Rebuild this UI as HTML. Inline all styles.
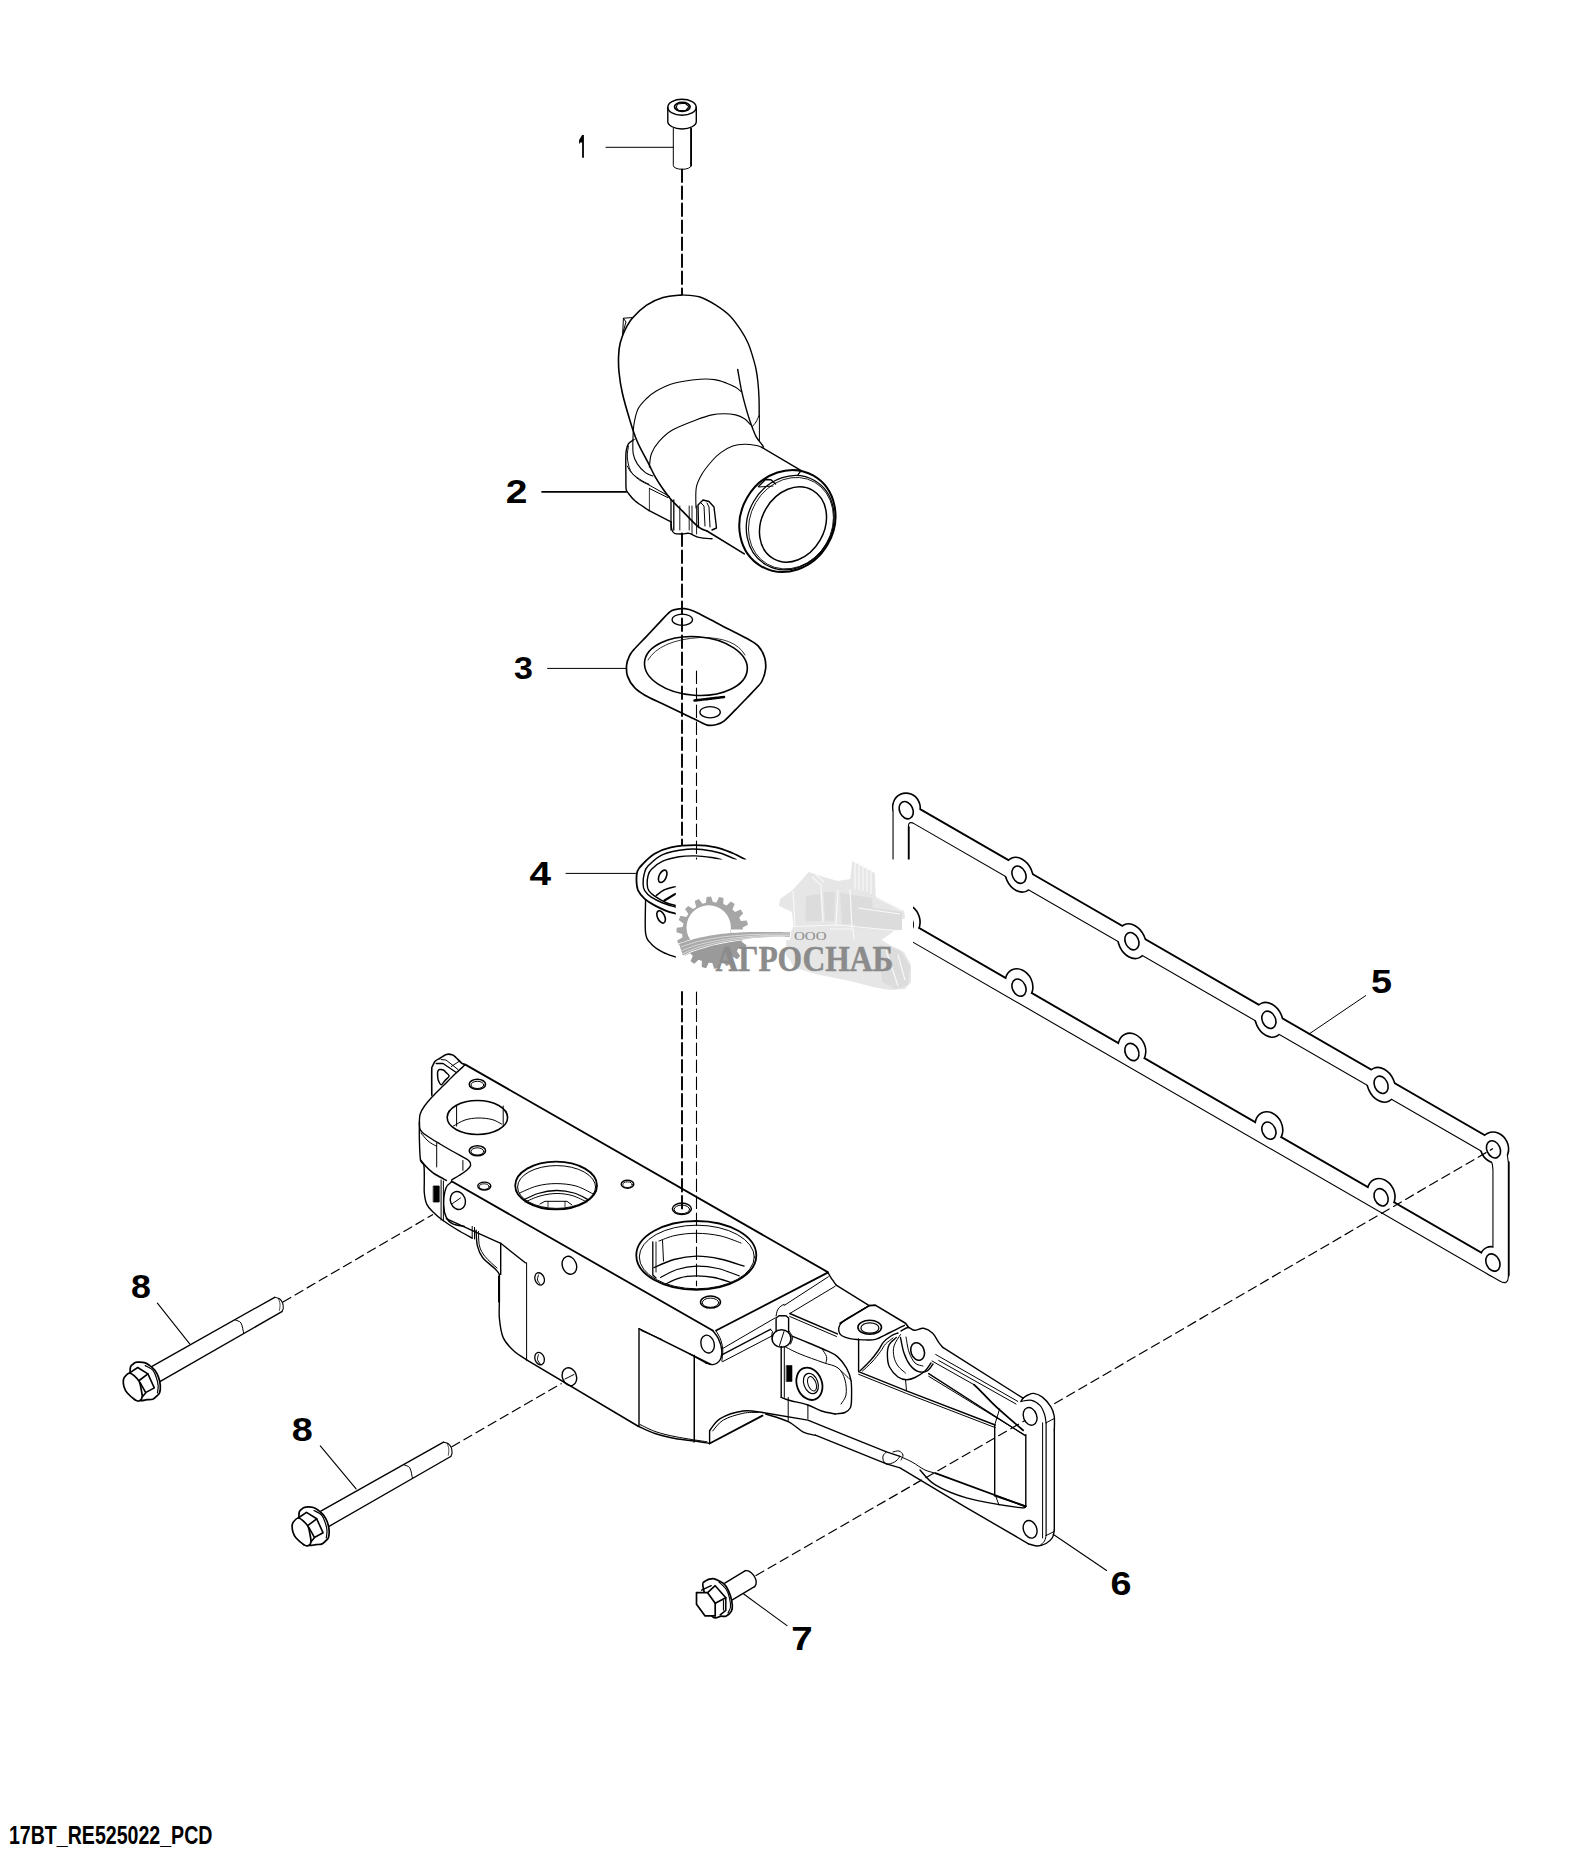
<!DOCTYPE html>
<html><head><meta charset="utf-8"><style>
html,body{margin:0;padding:0;background:#fff;}
body{width:1588px;height:1852px;overflow:hidden;position:relative;}
svg{position:absolute;left:0;top:0;}
.lb{font-family:"Liberation Sans",sans-serif;font-weight:bold;fill:#000;}
</style></head><body>
<svg width="1588" height="1852" viewBox="0 0 1588 1852">
<g fill="none" stroke="#000" stroke-linecap="round" stroke-linejoin="round">
<ellipse cx="682" cy="107.2" rx="14.2" ry="8" stroke-width="1.4" />
<path d="M667.8,107.5 V121.5 A14.2,7.4 0 0 0 696.3,121.5 V107.5" stroke-width="1.4" />
<ellipse cx="682.3" cy="106.8" rx="7.8" ry="4.5" stroke-width="1.7" />
<path d="M677.5,104 L685,103.3 L689,106.5 L686,110.2 L678.5,110.6 L676.2,107.4Z" stroke-width="1.1" />
<path d="M673.3,128.5 V165.5 A8.9,3.8 0 0 0 691.1,165.5 V128.5" stroke-width="1.0" />
<path d="M691.1,128.5 V165.5" stroke-width="1.8" />
<path d="M606,147.3 H673.3" stroke-width="1.0" />
<path d="M682,169.5 L682,294.5" stroke-width="1.9" stroke-dasharray="12.5 4.5"/>
<path d="M681.9,294.9 C678.8,295.3 668.9,295.8 663,297.5 C657.1,299.2 651.6,301.8 646.6,305.2 C641.6,308.6 636.3,313.7 632.7,317.8 C629.1,321.9 627.1,325.8 625,330 C622.9,334.2 621.3,338.7 620.2,343 C619.1,347.3 618.8,351.2 618.6,356 C618.4,360.8 618.4,365.8 619,372 C619.6,378.2 620.6,385.3 622.4,393.3 C624.2,401.3 627.4,412.1 629.8,420 C632.2,427.9 633.9,433.7 637,441 C640.1,448.3 645.6,457.8 648.7,463.9 C651.8,470 653.1,473.2 655.5,477.4 C657.9,481.6 660.4,485.3 663,489 C665.6,492.7 667.8,495.9 671,499.6 C674.2,503.3 678,506.6 682.5,511.1 C687,515.6 693.9,523.3 698,526.6 C702.1,529.9 705.5,530.3 707,531" stroke-width="1.6" />
<path d="M707,531 L744.3,553.9" stroke-width="1.6" />
<path d="M681.9,294.9 C684.9,295.2 694.3,295.3 700,297 C705.7,298.7 710.9,302 715.9,305.2 C720.9,308.4 725.8,311.8 730,316 C734.2,320.2 738,325.9 741,330.4 C744,334.9 746.1,338.8 748,343 C749.9,347.2 751.1,351.3 752.4,355.6 C753.7,359.9 755.1,364.6 756,369 C756.9,373.4 757.4,377.2 757.9,382 C758.4,386.8 758.8,392.3 759,398 C759.2,403.7 759.2,413 759.2,416" stroke-width="1.4" />
<path d="M759.4,416 V440.5" stroke-width="1.0" />
<path d="M758.8,416 C758.3,417 757.1,420.2 756,422 C754.9,423.8 752.9,425.8 752.3,426.5" stroke-width="1.0" />
<path d="M737.7,369.5 C738.4,373.1 740,383.6 741.6,390.9 C743.2,398.2 745.8,407.6 747.5,413.4 C749.2,419.2 750.2,421.9 751.7,425.9 C753.2,429.9 754.7,434.1 756.4,437.2 C758.1,440.3 760.6,442.7 761.8,444.3 C763,445.9 763.2,446.6 763.5,447" stroke-width="1.4" />
<path d="M622.6,336 L623.4,318.2 L632,317.6" stroke-width="1.0" />
<path d="M623.4,318.2 L626,322 L622.8,333" stroke-width="1.0" />
<path d="M652.8,476 C651.6,475.4 648,474.6 645.4,472.6 C642.8,470.6 639.3,467 637.3,463.9 C635.3,460.8 633.9,458.2 633.2,453.7 C632.5,449.2 632.9,441.9 633,437 C633.1,432.1 633.2,428.7 634,424 C634.8,419.3 636,413.2 638,409 C640,404.8 642.9,402 646,399 C649.1,396 651.9,393.5 656.7,390.8 C661.5,388.1 667.8,384.9 675,383 C682.2,381.1 693.4,379.9 700,379.3 C706.6,378.7 710.3,379 714.8,379.6 C719.2,380.2 723.2,381.9 726.7,383.2 C730.2,384.5 733.2,385.9 735.6,387.3 C738,388.7 740.1,390.8 741,391.5" stroke-width="1.1" />
<path d="M649.4,467.2 C649.7,464.9 649.8,458 651.4,453.7 C653,449.4 655.4,445.5 658.9,441.6 C662.4,437.7 666.2,433.7 672.4,430.1 C678.6,426.5 689.4,422.5 696,420 C702.6,417.5 707.3,415.9 711.9,414.9 C716.5,413.8 719.8,413.7 723.8,413.7 C727.8,413.7 732.1,414 735.6,414.9 C739.1,415.8 742,417.2 744.5,418.8 C747,420.4 749.5,423.7 750.5,424.7" stroke-width="1.1" />
<path d="M696,508 C696,504.6 695.3,493.2 696.3,487.5 C697.3,481.8 699.4,478.4 702,474 C704.6,469.6 708.8,464.6 711.9,461 C715,457.4 717.3,455.1 720.8,452.6 C724.3,450.1 728.8,447.5 732.7,446.1 C736.7,444.7 740.5,444.4 744.5,444.3 C748.5,444.2 753.5,445 756.4,445.5 C759.3,446 760.9,447 761.8,447.3" stroke-width="1.1" />
<path d="M761.8,447.3 L800.8,470.3" stroke-width="1.4" />
<path d="M634,439.5 C633.1,440.2 629.8,441.8 628.5,443.6 C627.2,445.4 626.8,448 626.3,450.4 C625.8,452.8 625.9,453.9 625.8,458 C625.7,462.1 625.8,469.9 625.9,475 C626,480.1 625.7,485.7 626.1,488.8 C626.5,491.9 627,491.5 628.5,493.5 C630,495.5 631.8,498.2 635.2,501 C638.6,503.8 646.5,508.8 648.7,510.4" stroke-width="1.4" />
<path d="M648.7,510.4 L671,521.9" stroke-width="1.4" />
<path d="M628.5,446 C628.3,447.8 627,452.9 627.3,457 C627.6,461.1 628.6,466.9 630.5,470.6 C632.4,474.3 635.6,477 638.6,479.4 C641.6,481.8 647,483.9 648.7,484.8" stroke-width="1.0" />
<path d="M648.7,484.8 L669.5,496.5" stroke-width="1.0" />
<path d="M627.3,466 C628.1,467.2 629.4,470.9 631.9,473.3 C634.4,475.8 639.1,478.9 642,480.7 C644.9,482.5 647.8,483.7 649,484.3" stroke-width="1.0" />
<path d="M649.4,488.5 L667.6,497.5" stroke-width="1.0" />
<path d="M649.4,488.2 V510.4" stroke-width="0.8" />
<path d="M671,500 V530" stroke-width="1.3" />
<path d="M673.8,500 V530" stroke-width="1.3" />
<path d="M679.8,506 V530" stroke-width="0.9" />
<path d="M689.2,506 V530" stroke-width="0.9" />
<path d="M692,506 V534" stroke-width="0.9" />
<path d="M696.6,506 V534" stroke-width="0.9" />
<path d="M671,521.5 C671.1,522.8 671.2,527.5 671.8,529.5 C672.4,531.5 672.7,532.6 674.5,533.4 C676.3,534.1 680,534 682.5,534 C685,534 686.5,532.8 689.2,533.4 C691.9,534 694.9,536.5 698.7,537.4 C702.5,538.3 709.8,538.6 712,538.8" stroke-width="1.4" />
<path d="M698.5,527.5 L698,505 L703,500 L709,501.5 L714,507 L716.5,528 L712,530" stroke-width="1.4" />
<path d="M701,503 L704,506 L705,526" stroke-width="1.0" />
<path d="M707,503 L709,507 L710,527" stroke-width="1.0" />
<ellipse cx="787.4" cy="521" rx="46.6" ry="52.3" transform="rotate(30 787.4 521)" stroke-width="2"/>
<ellipse cx="790.2" cy="522.6" rx="42.2" ry="48.6" transform="rotate(30 790.2 522.6)" stroke-width="1.3"/>
<ellipse cx="791" cy="523.2" rx="40.8" ry="47.3" transform="rotate(30 791 523.2)" stroke-width="0.8"/>
<ellipse cx="793" cy="524.5" rx="31.3" ry="39.4" transform="rotate(30 793 524.5)" stroke-width="1.5"/>
<path d="M758.5,486.5 L765.5,479.5 L771,479.8 L775.5,484" stroke-width="1.4" />
<path d="M759,487 L773,486" stroke-width="1.0" />
<path d="M789.5,470.5 L800.5,470.8 L797,476 L801.5,470.8" stroke-width="1.0" />
<path d="M610,491.9" stroke-width="1" />
<path d="M669.5,612.1 C672.6,609.5 673.6,609.9 676.1,609.3 C678.6,608.7 681.6,608.4 684.6,608.7 C687.6,609 689.5,609.3 694,611.2 C698.5,613.1 705.8,617.2 711.7,620.3 C717.6,623.3 723.5,626.5 729.4,629.5 C735.3,632.5 742.2,635.8 747,638.6 C751.8,641.4 755.4,643 758.3,646.1 C761.2,649.2 763.4,653.7 764.6,657.5 C765.8,661.3 766,664.9 765.6,668.8 C765.2,672.7 763.4,678 762,681 C760.6,684 760,684 757.5,686.8 C755,689.6 750.5,694.2 746.9,698 C743.2,701.8 739.4,705.8 735.6,709.6 C731.8,713.4 727.4,718.3 724.3,720.8 C721.1,723.3 719.5,723.8 716.7,724.5 C713.9,725.2 710.4,725.7 707.3,725.1 C704.1,724.5 702.3,722.9 697.8,720.8 C693.3,718.7 686.1,715.1 680.2,712.3 C674.3,709.4 668.4,706.6 662.5,703.7 C656.6,700.9 649.5,697.9 644.9,695.2 C640.2,692.5 637.5,690.8 634.6,687.7 C631.7,684.6 628.9,680.2 627.6,676.4 C626.3,672.6 626.3,668.5 626.6,665 C626.9,661.5 628.4,658.1 629.6,655.6 C630.8,653.1 630.9,653 633.6,649.9 C636.3,646.8 641.6,641.5 645.6,637.3 C649.6,633.1 653.5,628.9 657.5,624.7 C661.5,620.5 666.4,614.7 669.5,612.1Z" stroke-width="1.7" />
<ellipse cx="695.9" cy="666" rx="51.5" ry="29.3" transform="rotate(4 695.9 666)" stroke-width="1.6"/>
<path d="M648,660 Q660,640 700,637.5 Q735,637 745,655" stroke-width="0.8"/>
<ellipse cx="682.3" cy="619.7" rx="10.2" ry="5.6" stroke-width="1.3" />
<ellipse cx="710.1" cy="712.2" rx="10.2" ry="5.6" stroke-width="1.3" />
<path d="M694.5,700.5 L724,697" stroke-width="2.6" stroke-dasharray="3 1"/>
<path d="M547.6,668.4 H626" stroke-width="1.0" />
<path d="M675.4,913.6 C674,913.2 670.3,912.5 666.8,911.1 C663.3,909.7 658.3,907.4 654.6,905.4 C650.9,903.4 647.4,901.3 644.7,898.9 C642,896.5 639.6,893.7 638.2,890.7 C636.8,887.7 636.6,884.1 636.5,880.8 C636.4,877.5 636.5,873.7 637.5,871 C638.5,868.3 639.4,867.4 642.3,864.5 C645.1,861.6 649.8,856.7 654.6,853.8 C659.4,850.9 664.1,848.7 670.9,847.3 C677.7,845.9 688,845.2 695.5,845.2 C703,845.2 709.9,846 716,847.3 C722.1,848.6 727.4,851 732.3,853 C737.2,855 743.2,858.5 745.4,859.6" stroke-width="1.8" />
<path d="M675.4,907 C673.3,906.3 666.7,904.6 662.7,903 C658.7,901.4 654.3,899.2 651.3,897.2 C648.3,895.2 646.1,892.9 644.7,890.7 C643.3,888.5 643.2,886.9 643.1,884.1 C643,881.3 643.4,877 644.2,874 C645,871 644.9,869.3 648,866.1 C651.1,862.9 656.2,857.4 662.7,854.6 C669.2,851.8 680.5,850.1 687.3,849.3 C694.1,848.5 698.2,849.1 703.7,849.7 C709.2,850.3 714.5,851.4 720,853 C725.5,854.6 733.7,858.5 736.4,859.6" stroke-width="1.4" />
<path d="M675.4,905.4 C674,905 670,904.4 666.8,903 C663.6,901.6 659.2,899.2 656.2,897.2 C653.2,895.2 650.3,892.9 648.8,890.7 C647.3,888.5 647.3,886.6 647.2,884.1 C647.1,881.6 647.3,878.5 648,876 C648.7,873.5 648.8,871.9 651.3,869.4 C653.8,866.9 658.1,863.3 662.7,861.2 C667.3,859.1 673.6,857.6 679.1,856.7 C684.6,855.8 690,855.8 695.5,855.9 C701,856 707.5,856.9 711.9,857.5 C716.3,858.1 720.1,859.2 721.7,859.6" stroke-width="1.4" />
<ellipse cx="662.7" cy="876.3" rx="3.6" ry="6.6" transform="rotate(25 662.7 876.3)" stroke-width="1.6"/>
<ellipse cx="661.1" cy="916.9" rx="3.6" ry="6.6" transform="rotate(-25 661.1 916.9)" stroke-width="1.6"/>
<path d="M656.2,895.6 C657.5,894.7 660.8,891.5 664,890 C667.2,888.5 673.5,887.2 675.4,886.6" stroke-width="1.4" />
<path d="M664.4,900.5 L675.4,893.9" stroke-width="2.2" />
<path d="M645.6,899.7 C645.6,905.3 644.7,925.8 645.6,933.2 C646.5,940.6 648.4,940.8 651.3,943.9 C654.1,947 658.7,949.9 662.7,952.1 C666.7,954.3 673.3,956.2 675.4,957" stroke-width="1.4" />
<path d="M566,873.4 H636.5" stroke-width="1.0" />
<path d="M682,533.5 L682,845" stroke-width="1.9" stroke-dasharray="12.5 4.5"/>
<path d="M696.5,671 L696.5,859.6" stroke-width="1.1" stroke-dasharray="12.5 4.5"/>
<path d="M682,992 L682,1208.8" stroke-width="1.9" stroke-dasharray="12.5 4.5"/>
<path d="M696.5,992 L696.5,1285.7" stroke-width="1.1" stroke-dasharray="12.5 4.5"/>
<path d="M893.6,807.9 Q893.6,794.9 904.9,801.4 L1496.5,1143.1 Q1507.8,1149.6 1507.8,1162.6 L1507.8,1276.1 Q1507.8,1285.1 1500,1280.6 L902.3,935.4 Q893.6,930.4 893.6,920.4Z" stroke-width="2.2"/>
<path d="M907.8,827.4 Q907.8,819.4 914.7,823.4 L1483.1,1151.6 Q1493.5,1157.6 1493.5,1169.6 L1493.5,1252.8 Q1493.5,1260.8 1486.6,1256.8 L914.7,926.6 Q907.8,922.6 907.8,914.6Z" stroke-width="2.2"/>
<path d="M906.6,802.4 L1494.8,1142.1" stroke-width="3.8"/>
<path d="M1507.8,1162.6 L1507.8,1275.1" stroke-width="3.8"/>
<path d="M915.8,927.2 L1485.5,1256.2" stroke-width="3.8"/>
<path d="M907.8,827.4 L907.8,914.6" stroke-width="3.8"/>
<ellipse cx="1019" cy="874.7" rx="12.5" ry="17.3" transform="rotate(-25 1019 874.7)" stroke-width="3.2"/>
<ellipse cx="1131.9" cy="941.2" rx="12.5" ry="17.3" transform="rotate(-25 1131.9 941.2)" stroke-width="3.2"/>
<ellipse cx="1268.9" cy="1019.8" rx="12.5" ry="17.3" transform="rotate(-25 1268.9 1019.8)" stroke-width="3.2"/>
<ellipse cx="1381.1" cy="1084.8" rx="12.5" ry="17.3" transform="rotate(-25 1381.1 1084.8)" stroke-width="3.2"/>
<ellipse cx="1019" cy="984.6" rx="12.5" ry="15.5" transform="rotate(-25 1019 984.6)" stroke-width="3.2"/>
<ellipse cx="1131.9" cy="1049" rx="12.5" ry="15.5" transform="rotate(-25 1131.9 1049)" stroke-width="3.2"/>
<ellipse cx="1268.9" cy="1127.6" rx="12.5" ry="15.5" transform="rotate(-25 1268.9 1127.6)" stroke-width="3.2"/>
<ellipse cx="1381.1" cy="1194.3" rx="12.5" ry="15.5" transform="rotate(-25 1381.1 1194.3)" stroke-width="3.2"/>
<ellipse cx="906.5" cy="807.3" rx="12.8" ry="13.5" transform="rotate(-25 906.5 807.3)" stroke-width="3.2"/>
<ellipse cx="1494.4" cy="1147.5" rx="13" ry="15" transform="rotate(-25 1494.4 1147.5)" stroke-width="3.2"/>
<ellipse cx="906.2" cy="919.7" rx="12.5" ry="15.5" transform="rotate(-25 906.2 919.7)" stroke-width="3.2"/>
<ellipse cx="1492.9" cy="1261.5" rx="11.5" ry="14.5" transform="rotate(-25 1492.9 1261.5)" stroke-width="3.2"/>
<path d="M893.6,807.9 Q893.6,794.9 904.9,801.4 L1496.5,1143.1 Q1507.8,1149.6 1507.8,1162.6 L1507.8,1276.1 Q1507.8,1285.1 1500,1280.6 L902.3,935.4 Q893.6,930.4 893.6,920.4Z M907.8,827.4 Q907.8,819.4 914.7,823.4 L1483.1,1151.6 Q1493.5,1157.6 1493.5,1169.6 L1493.5,1252.8 Q1493.5,1260.8 1486.6,1256.8 L914.7,926.6 Q907.8,922.6 907.8,914.6Z" fill="#fff" fill-rule="evenodd" stroke="none"/>
<ellipse cx="1019" cy="874.7" rx="12.5" ry="17.3" transform="rotate(-25 1019 874.7)" fill="#fff" stroke="none"/>
<ellipse cx="1131.9" cy="941.2" rx="12.5" ry="17.3" transform="rotate(-25 1131.9 941.2)" fill="#fff" stroke="none"/>
<ellipse cx="1268.9" cy="1019.8" rx="12.5" ry="17.3" transform="rotate(-25 1268.9 1019.8)" fill="#fff" stroke="none"/>
<ellipse cx="1381.1" cy="1084.8" rx="12.5" ry="17.3" transform="rotate(-25 1381.1 1084.8)" fill="#fff" stroke="none"/>
<ellipse cx="1019" cy="984.6" rx="12.5" ry="15.5" transform="rotate(-25 1019 984.6)" fill="#fff" stroke="none"/>
<ellipse cx="1131.9" cy="1049" rx="12.5" ry="15.5" transform="rotate(-25 1131.9 1049)" fill="#fff" stroke="none"/>
<ellipse cx="1268.9" cy="1127.6" rx="12.5" ry="15.5" transform="rotate(-25 1268.9 1127.6)" fill="#fff" stroke="none"/>
<ellipse cx="1381.1" cy="1194.3" rx="12.5" ry="15.5" transform="rotate(-25 1381.1 1194.3)" fill="#fff" stroke="none"/>
<ellipse cx="906.5" cy="807.3" rx="12.8" ry="13.5" transform="rotate(-25 906.5 807.3)" fill="#fff" stroke="none"/>
<ellipse cx="1494.4" cy="1147.5" rx="13" ry="15" transform="rotate(-25 1494.4 1147.5)" fill="#fff" stroke="none"/>
<ellipse cx="906.2" cy="919.7" rx="12.5" ry="15.5" transform="rotate(-25 906.2 919.7)" fill="#fff" stroke="none"/>
<ellipse cx="1492.9" cy="1261.5" rx="11.5" ry="14.5" transform="rotate(-25 1492.9 1261.5)" fill="#fff" stroke="none"/>
<ellipse cx="906.2" cy="810.2" rx="6.6" ry="9" transform="rotate(-25 906.2 810.2)" stroke-width="1.6"/>
<ellipse cx="1019" cy="874.7" rx="6.6" ry="9" transform="rotate(-25 1019 874.7)" stroke-width="1.6"/>
<ellipse cx="1131.9" cy="941.2" rx="6.6" ry="9" transform="rotate(-25 1131.9 941.2)" stroke-width="1.6"/>
<ellipse cx="1268.9" cy="1019.8" rx="6.6" ry="9" transform="rotate(-25 1268.9 1019.8)" stroke-width="1.6"/>
<ellipse cx="1381.1" cy="1084.8" rx="6.6" ry="9" transform="rotate(-25 1381.1 1084.8)" stroke-width="1.6"/>
<ellipse cx="1493.5" cy="1149.4" rx="6.6" ry="9" transform="rotate(-25 1493.5 1149.4)" stroke-width="1.6"/>
<ellipse cx="906.2" cy="922.7" rx="6.6" ry="9" transform="rotate(-25 906.2 922.7)" stroke-width="1.6"/>
<ellipse cx="1019" cy="987.6" rx="6.6" ry="9" transform="rotate(-25 1019 987.6)" stroke-width="1.6"/>
<ellipse cx="1131.9" cy="1052" rx="6.6" ry="9" transform="rotate(-25 1131.9 1052)" stroke-width="1.6"/>
<ellipse cx="1268.9" cy="1130.6" rx="6.6" ry="9" transform="rotate(-25 1268.9 1130.6)" stroke-width="1.6"/>
<ellipse cx="1381.1" cy="1197.3" rx="6.6" ry="9" transform="rotate(-25 1381.1 1197.3)" stroke-width="1.6"/>
<ellipse cx="1492.9" cy="1262.5" rx="6.6" ry="9" transform="rotate(-25 1492.9 1262.5)" stroke-width="1.6"/>
<path d="M1365.7,995.6 L1309.2,1033.9" stroke-width="1.0" />
<path d="M465.4,1064.6 L827.7,1272.1" stroke-width="1.8" />
<path d="M827.7,1272.1 C828.2,1272.9 829.2,1275 830.6,1277.2 C832,1279.4 835.3,1283.8 836.2,1285.1" stroke-width="1.4" />
<path d="M836.2,1285.1 L869.2,1305.6" stroke-width="1.4" />
<path d="M465.4,1064.6 C463.7,1066.2 458.6,1070.6 455,1074 C451.4,1077.4 447.8,1081.2 444,1085 C440.2,1088.8 435.2,1093.5 432,1097 C428.8,1100.5 426.5,1103.2 424.5,1106 C422.5,1108.8 421.1,1111.3 420.2,1114 C419.3,1116.7 419.5,1119.5 419.4,1122 C419.3,1124.5 419.7,1127.8 419.8,1129" stroke-width="1.4" />
<path d="M431.8,1095.3 C431.8,1092.8 431.7,1084.5 431.7,1080 C431.7,1075.5 431.7,1070.7 431.8,1068.4 C431.9,1066.1 431.9,1067.4 432.5,1066.2 C433.1,1065 433.9,1062.5 435.1,1061.2 C436.4,1059.9 438.1,1059.3 440,1058.2 C441.9,1057.1 444.4,1055 446.4,1054.4 C448.4,1053.8 450.5,1054.3 452.1,1054.8 C453.7,1055.3 454.3,1056.1 455.9,1057.5 C457.5,1058.9 460.2,1062 461.6,1063.1 C463,1064.2 464,1064 464.5,1064.2" stroke-width="1.6" />
<path d="M436.2,1063.5 L442.7,1063.3 L455.9,1072.2" stroke-width="1.3" />
<path d="M441.2,1059.6 L446,1060 L458,1069.5" stroke-width="1.0" />
<path d="M451.4,1066.4 L459,1061.4" stroke-width="1.0" />
<path d="M437.8,1071.4 C438.1,1070.5 438.7,1069.8 439.6,1069.6 C440.5,1069.4 442.3,1069.5 443.4,1070 C444.5,1070.5 445.1,1071.5 446,1072.5 C446.9,1073.5 449.3,1074.7 449.1,1076 C448.9,1077.3 446.3,1079 445,1080.5 C443.7,1082 442.3,1084.8 441.2,1084.7 C440.1,1084.6 438.8,1081.6 438.2,1080 C437.6,1078.4 437.7,1076.4 437.6,1075 C437.5,1073.6 437.5,1072.3 437.8,1071.4Z" stroke-width="1.5" />
<path d="M419.8,1129 C420.3,1129.7 421.1,1131.4 423,1133 C424.9,1134.6 428.2,1136.7 431,1138.5 C433.8,1140.3 436.5,1141.9 440,1144 C443.5,1146.1 447.8,1148.6 452,1151 C456.2,1153.4 462.5,1156.7 465.4,1158.4 C468.3,1160.2 468.6,1160.3 469.5,1161.5 C470.4,1162.7 471,1164.1 470.6,1165.5 C470.2,1166.9 468.9,1168.3 467,1170 C465.1,1171.7 461.6,1173.8 459,1175.5 C456.4,1177.2 452.8,1179.2 451.6,1180" stroke-width="1.4" />
<path d="M421,1133 C422.2,1134.3 425.5,1138.8 428,1141 C430.5,1143.2 434.7,1145.2 436,1146" stroke-width="1.0" />
<path d="M436.7,1143 V1167" stroke-width="1.0" />
<path d="M419.4,1122 C419.4,1125 419.2,1133.7 419.4,1140 C419.6,1146.3 419.8,1155.8 420.5,1160 C421.2,1164.2 423.3,1162.2 423.9,1165.5 C424.5,1168.8 424.2,1175.5 424.3,1180 C424.4,1184.5 423.9,1188.7 424.3,1192.8 C424.7,1196.9 425.3,1201.2 426.8,1204.4 C428.3,1207.6 430.7,1209.6 433.3,1212.2 C435.9,1214.8 438.6,1217.2 442.4,1220 C446.2,1222.8 451,1226 456,1229 C461,1232 469.5,1236.6 472.2,1238.1" stroke-width="1.4" />
<path d="M420.5,1160 C421.4,1161.1 424,1164.4 426,1166.5 C428,1168.6 430.4,1170.8 432.7,1172.6 C435,1174.3 437.7,1175.7 440,1177 C442.3,1178.3 445.2,1179.8 446.3,1180.4" stroke-width="1.6" />
<path d="M462.9,1160.5 V1170.3" stroke-width="1.0" />
<path d="M441.1,1180 V1220 M443.4,1181 V1221" stroke-width="1.0" />
<path d="M433.6,1186 h5.6 v16 h-5.6z" fill="#000" stroke-width="0.8"/>
<path d="M451.6,1181.2 L712.7,1330.5" stroke-width="1.8" />
<path d="M827.7,1272.6 L716.1,1330.5" stroke-width="1.8" />
<path d="M828.3,1276.8 L784.1,1305.5" stroke-width="1.0" />
<path d="M835.1,1286.3 L789.8,1313.5" stroke-width="1.0" />
<ellipse cx="477.4" cy="1084.3" rx="8.2" ry="5" stroke-width="1.5" />
<ellipse cx="477.4" cy="1084.9" rx="6.4" ry="3.6" stroke-width="1.0" />
<ellipse cx="477.4" cy="1150.8" rx="8.2" ry="5" stroke-width="1.5" />
<ellipse cx="477.4" cy="1151.4" rx="6.4" ry="3.6" stroke-width="1.0" />
<ellipse cx="681.9" cy="1208.8" rx="9.5" ry="5.7" stroke-width="1.5" />
<ellipse cx="681.9" cy="1209.4" rx="7.7" ry="4.3" stroke-width="1.0" />
<ellipse cx="710.5" cy="1302.1" rx="10" ry="6" stroke-width="1.5" />
<ellipse cx="710.5" cy="1302.7" rx="8.2" ry="4.6" stroke-width="1.0" />
<ellipse cx="484.3" cy="1186.1" rx="6.5" ry="4" stroke-width="1.4" />
<ellipse cx="484.3" cy="1186.6" rx="4.9" ry="2.8" stroke-width="0.9" />
<ellipse cx="627.5" cy="1184.2" rx="6.3" ry="4" stroke-width="1.4" />
<ellipse cx="627.5" cy="1184.7" rx="4.7" ry="2.8" stroke-width="0.9" />
<ellipse cx="477.4" cy="1117.5" rx="30.2" ry="17" stroke-width="1.6" />
<path d="M456.6,1106 V1126 M503.2,1106 V1126" stroke-width="1.0" />
<path d="M453.5,1126 C455.4,1125 460.9,1121.3 465,1120 C469.1,1118.7 473.5,1118.1 478,1118 C482.5,1117.9 488.1,1118.5 492,1119.5 C495.9,1120.5 499.9,1123.2 501.5,1124" stroke-width="1.0" />
<ellipse cx="556.1" cy="1185.5" rx="40.9" ry="23.9" stroke-width="1.8" />
<ellipse cx="556.6" cy="1187" rx="39" ry="21.4" stroke-width="1.0" />
<path d="M519.6,1193 C522.5,1191.8 530.9,1187.6 537,1186 C543.1,1184.4 549.6,1183.6 556.1,1183.6 C562.6,1183.6 569.9,1184.3 576,1186 C582.1,1187.7 589.8,1192.4 592.6,1193.7" stroke-width="1.0" />
<path d="M523.4,1200 C525.8,1198.9 532.5,1195.1 538,1193.5 C543.5,1191.9 550.1,1190.6 556.1,1190.5 C562.1,1190.4 568.5,1191.4 574,1193 C579.5,1194.6 586.3,1198.8 588.8,1200" stroke-width="1.3" />
<path d="M525,1202 C527.5,1201 534.8,1197.4 540,1196 C545.2,1194.6 550.8,1193.6 556.1,1193.5 C561.4,1193.4 566.9,1194.1 572,1195.5 C577.1,1196.9 584.5,1200.9 587,1202" stroke-width="1.0" />
<path d="M540,1204 L545,1201.3 L567,1201.3 L572,1205" stroke-width="1.0" />
<path d="M548,1201.5 V1207 M565,1201.5 V1207" stroke-width="0.8" />
<ellipse cx="696.3" cy="1255.4" rx="60" ry="34.4" stroke-width="1.8" />
<ellipse cx="696.8" cy="1257" rx="57.5" ry="31.8" stroke-width="1.0" />
<path d="M659,1241 C661.7,1240.1 668.7,1236.8 675,1235.5 C681.3,1234.2 689.1,1233.2 696.6,1233.3 C704.1,1233.3 712.6,1234.2 720,1235.8 C727.4,1237.4 737.5,1241.8 741,1243" stroke-width="1.0" />
<path d="M654,1267.7 C657.3,1266.3 666.9,1261.4 674,1259.5 C681.1,1257.6 688.9,1256.3 696.6,1256.2 C704.3,1256.1 712.1,1257.3 720,1259 C727.9,1260.7 740.1,1264.9 744.1,1266.1" stroke-width="1.3" />
<path d="M660.6,1277.5 C663.3,1276.2 671,1271.4 677,1269.5 C683,1267.6 689.8,1266.3 696.6,1266.1 C703.4,1265.9 710.9,1266.9 718,1268.5 C725.1,1270.1 735.7,1274.7 739.2,1275.9" stroke-width="1.2" />
<path d="M665.5,1284.1 C667.9,1283 674.8,1279.2 680,1277.8 C685.2,1276.4 690.9,1276 696.6,1275.9 C702.3,1275.9 708.3,1276.4 714,1277.5 C719.7,1278.6 728.2,1281.6 731,1282.4" stroke-width="1.3" />
<path d="M652.8,1241.8 L652.8,1275 L656,1278" stroke-width="1.3" />
<path d="M656,1242 L656,1272" stroke-width="0.9" />
<path d="M662.5,1240 L663.5,1261" stroke-width="1.0" />
<ellipse cx="707.6" cy="1344.1" rx="6.6" ry="9.1" transform="rotate(-15 707.6 1344.1)" stroke-width="1.4"/>
<path d="M712.7,1330.5 C713.6,1331.8 716.8,1335.2 718.3,1338.4 C719.8,1341.6 721.4,1346.1 721.7,1349.7 C722,1353.3 721.5,1357.5 720,1360 C718.5,1362.5 715.3,1364.1 713,1364.6 C710.7,1365.1 707.2,1363.3 706,1363" stroke-width="1.4" />
<path d="M706,1363 L690,1354" stroke-width="1.4" />
<path d="M716.5,1331.5 C717.2,1332.9 719.8,1336.9 720.8,1340 C721.8,1343.1 722.6,1346.5 722.8,1350 C723,1353.5 722,1359.2 721.8,1361" stroke-width="1.0" />
<path d="M722.5,1348.6 L775,1318" stroke-width="1.0" />
<path d="M722.8,1354.3 L770.5,1329.3" stroke-width="1.4" />
<path d="M722.5,1361.7 L771.6,1336.1" stroke-width="1.0" />
<path d="M770.5,1329.3 L772.5,1331.5 L771.6,1336.1" stroke-width="1.0" />
<path d="M776.1,1331.6 L776.1,1318 L779,1315.8 L786,1315.7 L788.6,1318 L788.6,1331.6" stroke-width="1.4" />
<path d="M776.1,1316 C776.3,1315 776.7,1311.7 777.5,1310 C778.3,1308.3 779.9,1306.9 781,1306 C782.1,1305.1 783.6,1304.7 784.1,1304.4" stroke-width="1.0" />
<ellipse cx="781.5" cy="1338.5" rx="9.5" ry="8.8" stroke-width="1.6" />
<path d="M779.5,1345.5 L784,1331.5" stroke-width="1.0" />
<path d="M789,1331 C789.6,1332.1 792.2,1335.3 792.5,1337.5 C792.8,1339.7 790.8,1342.9 790.5,1344" stroke-width="1.0" />
<path d="M789.8,1313.5 L837.4,1333.9" stroke-width="1.4" />
<path d="M789.8,1316.5 L836.5,1336.5" stroke-width="1.0" />
<path d="M792,1336.1 C795,1337.3 804.1,1341 810,1343.5 C815.9,1346 822.6,1348.7 827.2,1350.9 C831.8,1353.1 834.2,1353.8 837.4,1356.6 C840.6,1359.4 844.1,1363.9 846.4,1367.9 C848.7,1371.9 850.1,1375 851,1380.4 C851.9,1385.8 851.6,1395.9 851.5,1400.5 C851.4,1405.1 851.3,1406 850.2,1408 C849.1,1410 847.5,1411.5 845,1412.5 C842.5,1413.5 836.8,1413.8 835.1,1414" stroke-width="1.4" />
<path d="M781.2,1346.4 L781.2,1397.4" stroke-width="1.4" />
<path d="M784.3,1346.4 L784.3,1397.4" stroke-width="1.0" />
<path d="M781.2,1397.4 C782.7,1397.9 785.5,1399.2 790,1400.5 C794.5,1401.8 802.6,1403.2 807.9,1405 C813.1,1406.8 817,1409.5 821.5,1411 C826,1412.5 832.8,1413.5 835.1,1414" stroke-width="1.4" />
<path d="M784.3,1346.4 C786.9,1347.7 793.5,1351.3 800,1354 C806.5,1356.7 816.7,1360.2 823,1362.5 C829.3,1364.8 834.3,1365.1 838,1368 C841.7,1370.9 843.7,1375.5 845,1380 C846.3,1384.5 846.7,1391 846,1395 C845.3,1399 841.8,1402.5 841,1404" stroke-width="1.0" />
<path d="M822,1349 C822.8,1350.2 825.8,1354.2 826.5,1356.5 C827.2,1358.8 826.1,1361.5 826,1362.5" stroke-width="1.0" />
<path d="M838,1368 C839.4,1369.3 844.3,1373.9 846.5,1376 C848.7,1378.1 850.2,1379.7 851,1380.4" stroke-width="1.0" />
<ellipse cx="809.4" cy="1383.8" rx="12.5" ry="16.6" transform="rotate(-20 809.4 1383.8)" stroke-width="1.8"/>
<ellipse cx="810.9" cy="1383.5" rx="7" ry="10.5" transform="rotate(-20 810.9 1383.5)" stroke-width="1.2"/>
<ellipse cx="812" cy="1383.8" rx="4" ry="7.5" transform="rotate(-20 812 1383.8)" stroke-width="1.0"/>
<path d="M786.5,1365.5 h5.5 v16 h-5.5z" fill="#000" stroke-width="0.6"/>
<path d="M788.2,1397.4 V1421.6 M807.9,1405 V1418.6" stroke-width="1.0" />
<path d="M446.3,1218.7 L477.4,1232.9 L500.7,1243.3 L525.3,1262.7" stroke-width="1.4" />
<path d="M452,1181.5 C451,1182.6 447.4,1184.2 446,1188 C444.6,1191.8 443.6,1199.5 443.7,1204.4 C443.8,1209.3 444.8,1214.2 446.3,1217.4 C447.8,1220.7 449.8,1222.4 452.8,1223.9 C455.8,1225.4 462.5,1226 464.4,1226.4" stroke-width="1.4" />
<ellipse cx="457.9" cy="1200.5" rx="7.4" ry="9.1" transform="rotate(-20 457.9 1200.5)" stroke-width="1.4"/>
<path d="M452.5,1203.5 L460.5,1198" stroke-width="1.0" />
<path d="M472.2,1226.4 V1238.1 M474.5,1227.4 V1239" stroke-width="1.0" />
<path d="M476.1,1230.3 C476.3,1232.9 476.3,1241.4 477.4,1245.9 C478.5,1250.4 479.6,1253.6 482.6,1257.5 C485.6,1261.4 492.7,1266.4 495.5,1269.2 C498.3,1272 498.8,1273.5 499.4,1274.4" stroke-width="1.4" />
<path d="M478.5,1231.5 C478.7,1233.9 478.4,1241.8 479.5,1246 C480.6,1250.2 482.1,1252.8 485,1256.5 C487.9,1260.2 495,1266.1 497,1268" stroke-width="1.0" />
<path d="M500.7,1243.3 V1274.4" stroke-width="1.4" />
<path d="M499.4,1274.4 C499.4,1278.7 499.4,1292.7 499.4,1300 C499.4,1307.3 498.8,1312.1 499.4,1318.4 C500,1324.7 500.9,1332.5 503.3,1337.9 C505.7,1343.3 509.8,1347.1 513.7,1350.8 C517.6,1354.5 524.5,1358.4 526.6,1359.9" stroke-width="1.4" />
<path d="M498.5,1276 V1302" stroke-width="1.0" />
<path d="M526.6,1262.7 V1359.9" stroke-width="1.0" />
<path d="M526.6,1359.9 L637.8,1426" stroke-width="1.6" />
<path d="M637.8,1426 C640.7,1427.2 648.8,1431.4 655,1433.5 C661.2,1435.6 668.4,1437.2 675,1438.5 C681.6,1439.8 688.7,1440.2 694.5,1441 C700.3,1441.8 707.1,1443.1 709.6,1443.5" stroke-width="1.4" />
<path d="M640,1424.5 C642.7,1425.7 650,1429.8 656,1431.8 C662,1433.8 667.5,1435.1 676,1436.8 C684.5,1438.5 701.8,1441 707,1441.8" stroke-width="1.0" />
<ellipse cx="569.4" cy="1265.3" rx="7" ry="9.2" transform="rotate(-20 569.4 1265.3)" stroke-width="1.4"/>
<ellipse cx="569.4" cy="1376.7" rx="7" ry="9.2" transform="rotate(-20 569.4 1376.7)" stroke-width="1.4"/>
<ellipse cx="539.6" cy="1278.9" rx="4.6" ry="6.3" transform="rotate(-20 539.6 1278.9)" stroke-width="1.3"/>
<ellipse cx="539.6" cy="1358.6" rx="4.6" ry="6.3" transform="rotate(-20 539.6 1358.6)" stroke-width="1.3"/>
<path d="M538.5,1275 C538.3,1275.8 537.2,1278.5 537.5,1280 C537.8,1281.5 539.6,1283.3 540,1284" stroke-width="1.0" />
<path d="M538.5,1354.7 C538.3,1355.5 537.2,1358.2 537.5,1359.7 C537.8,1361.2 539.6,1363 540,1363.7" stroke-width="1.0" />
<path d="M565,1379 L574,1374.5" stroke-width="1.0" />
<path d="M639,1328.7 L695,1356.5 L711,1364.5" stroke-width="1.4" />
<path d="M641,1330.5 L662,1339.5" stroke-width="1.0" />
<path d="M639,1328.7 V1425.5" stroke-width="1.4" />
<path d="M694,1356 V1442.4" stroke-width="1.0" />
<path d="M694.5,1355.1 V1441.3" stroke-width="1.0" />
<path d="M709.6,1443.5 L709.6,1430.7" stroke-width="1.4" />
<path d="M709.6,1430.7 C711.4,1428.7 714.7,1421.9 720.2,1418.6 C725.8,1415.3 735.9,1412 742.9,1411 C749.9,1410 759.2,1412.2 762.5,1412.5" stroke-width="1.4" />
<path d="M712.7,1431 C714.5,1429.2 718.2,1423 723.2,1420.1 C728.2,1417.1 737.1,1414.6 742.9,1413.3 C748.7,1412 755.5,1412.6 758,1412.5" stroke-width="1.0" />
<path d="M709.6,1443.5 L762.5,1415.6" stroke-width="1.8" />
<path d="M762.5,1412.5 L807.9,1420.1 L841.1,1433.7 L886.5,1451.8 L900,1456.4" stroke-width="1.4" />
<path d="M765.6,1414 C769.4,1415.3 781.9,1418.6 788.2,1421.6 C794.5,1424.6 798.8,1429.9 803.3,1432.2 C807.8,1434.5 813.4,1434.7 815.4,1435.2" stroke-width="1.4" />
<path d="M815.4,1435.2 L886.5,1463.9" stroke-width="1.4" />
<path d="M840,1323.2 L869.2,1305.6 L875.3,1305.1 L905.5,1323.2 L908.5,1327.3" stroke-width="1.6" />
<path d="M869.2,1305.6 C866.8,1307 859,1311.6 855,1314 C851,1316.4 847.5,1318.2 845,1320 C842.5,1321.8 840.8,1323.2 839.8,1325 C838.8,1326.8 838.5,1329.2 838.8,1331 C839.1,1332.8 839.6,1334.2 841.5,1335.5 C843.4,1336.8 847.1,1337.9 850,1338.6 C852.9,1339.3 856.1,1339.4 858.6,1339.6 C861.1,1339.8 862.4,1339.9 865.2,1339.9 C868,1339.9 871.2,1340.6 875.3,1339.4 C879.4,1338.2 885.1,1334.8 890,1332.5 C894.9,1330.2 902.1,1326.5 904.5,1325.3" stroke-width="1.4" />
<ellipse cx="869.7" cy="1327.3" rx="11.8" ry="7" stroke-width="1.6" />
<ellipse cx="869.9" cy="1328" rx="9" ry="5.2" stroke-width="1.2" />
<path d="M858.6,1339 V1371.6" stroke-width="1.4" />
<path d="M858.6,1371.6 L906.5,1390.8 L995.2,1425" stroke-width="1.4" />
<path d="M858.6,1374.3 L906.5,1393.5 L995.2,1427.6" stroke-width="1.0" />
<path d="M860.2,1370.6 C861.8,1369 867,1364.3 870,1361 C873,1357.7 876.1,1353.6 878.3,1350.5 C880.5,1347.4 881.2,1344.8 883.3,1342.4 C885.4,1340 888.5,1337.6 891,1336 C893.5,1334.4 896.8,1333.5 898,1333" stroke-width="1.4" />
<path d="M862.5,1371 C864.1,1369.5 869,1365.2 872,1362 C875,1358.8 878.2,1354.5 880.5,1351.5 C882.8,1348.5 883.4,1346.2 885.5,1344 C887.6,1341.8 891.8,1339 893,1338" stroke-width="1.0" />
<path d="M896.4,1337.4 C895.2,1338.7 890.5,1341.9 889,1345 C887.5,1348.1 887.3,1352.3 887.4,1356 C887.5,1359.7 887.7,1363.5 889.5,1367 C891.3,1370.5 895.2,1374.9 898,1377 C900.8,1379.1 903.7,1379.6 906.5,1379.7 C909.3,1379.8 911.9,1379 915,1377.5 C918.1,1376 922.3,1373.4 925,1371 C927.7,1368.6 930,1364.3 931,1363" stroke-width="1.4" />
<path d="M900.5,1334.5 C899.4,1336.4 895.1,1342.2 894,1346 C892.9,1349.8 893.3,1353.7 894,1357 C894.7,1360.3 896.1,1363.3 898,1366 C899.9,1368.7 904.2,1371.8 905.5,1373" stroke-width="1.0" />
<path d="M905.5,1379.5 L906.5,1390.8" stroke-width="1.0" />
<path d="M901,1331 C902.2,1330.4 905.7,1327.6 908,1327.5 C910.3,1327.4 912,1330.2 914.6,1330.3 C917.2,1330.4 920.6,1327.8 923.6,1328.3 C926.6,1328.8 930.2,1330.9 932.7,1333.3 C935.2,1335.7 937,1340.1 938.7,1342.4 C940.4,1344.8 942.1,1346.6 942.8,1347.4" stroke-width="1.4" />
<path d="M900.5,1337.5 C901.1,1340.1 902.4,1348.4 904,1353 C905.6,1357.6 907.6,1361.9 910,1365 C912.4,1368.1 915.6,1370.7 918.6,1371.6 C921.6,1372.5 925.3,1371.9 927.7,1370.6 C930.1,1369.3 932.1,1365.1 933,1364" stroke-width="1.4" />
<path d="M906,1337 C906.5,1339.5 907.5,1347.7 909,1352 C910.5,1356.3 912.7,1360.7 915,1363 C917.3,1365.3 921.7,1365.5 923,1366" stroke-width="1.0" />
<ellipse cx="917.6" cy="1351.5" rx="6.6" ry="9" transform="rotate(-20 917.6 1351.5)" stroke-width="1.6"/>
<path d="M942.8,1347.4 L1023.1,1398.2" stroke-width="1.4" />
<path d="M935.7,1354.5 L1017.8,1401.4" stroke-width="1.0" />
<path d="M938.7,1360.5 L1016,1404" stroke-width="1.0" />
<path d="M932,1361 L974,1384.7" stroke-width="1.0" />
<path d="M974,1384.7 C975.4,1386 978.7,1389.1 982.4,1392.8 C986.1,1396.5 989.5,1400.5 996.3,1406.8 C1003.1,1413 1018.6,1426.4 1023.1,1430.3" stroke-width="1.8" />
<path d="M928.7,1373.6 L1025.3,1435.7" stroke-width="1.4" />
<path d="M928.7,1376.3 L1023,1434" stroke-width="1.0" />
<path d="M994.7,1425 V1495.6" stroke-width="1.4" />
<path d="M1025.8,1434.6 V1506.3" stroke-width="1.4" />
<path d="M999.6,1408.9 L994.7,1425" stroke-width="1.0" />
<path d="M994.7,1495.6 L1025.8,1506.3" stroke-width="1.8" />
<path d="M996,1497 L999,1505" stroke-width="1.0" />
<path d="M1021,1401.4 C1021.4,1400.9 1021.9,1399.3 1023.1,1398.2 C1024.3,1397.1 1026.2,1395.8 1028,1395 C1029.8,1394.2 1031.4,1393.1 1033.8,1393.4 C1036.2,1393.8 1039.6,1394.9 1042.4,1397.1 C1045.2,1399.3 1048.9,1403.6 1050.9,1406.8 C1052.9,1410 1053.6,1412.1 1054.2,1416 C1054.8,1419.9 1054.3,1427.7 1054.3,1430" stroke-width="1.4" />
<path d="M1054.3,1430 V1530" stroke-width="1.4" />
<path d="M1054.3,1530 C1054,1531.2 1053.9,1535.2 1052.5,1537.5 C1051.1,1539.8 1048.6,1542.1 1046,1543.5 C1043.4,1544.9 1039.9,1546 1037,1546 C1034.1,1546 1029.9,1544.2 1028.5,1543.8" stroke-width="1.4" />
<path d="M1021,1401.4 C1022.8,1401.2 1028.5,1399.6 1031.7,1400.3 C1034.9,1401 1038.1,1403.4 1040.2,1405.7 C1042.3,1408 1043.5,1411.5 1044.5,1414.3 C1045.5,1417.1 1045.8,1421.4 1046.1,1422.8" stroke-width="1.2" />
<path d="M1046.1,1422.8 V1535.5" stroke-width="1.2" />
<path d="M1046.1,1535.5 C1045.8,1536.4 1045.5,1539.3 1044.5,1541 C1043.5,1542.7 1040.8,1544.8 1040,1545.5" stroke-width="1.0" />
<path d="M1042.6,1422.8 V1538" stroke-width="1.0" />
<path d="M1046.1,1422.8 L1054.2,1418.5" stroke-width="1.0" />
<path d="M1046.1,1535.5 L1054.2,1531.5" stroke-width="1.0" />
<ellipse cx="1030.1" cy="1416.4" rx="6.6" ry="9.1" transform="rotate(-20 1030.1 1416.4)" stroke-width="1.4"/>
<ellipse cx="1030.1" cy="1529.3" rx="6.6" ry="9.1" transform="rotate(-20 1030.1 1529.3)" stroke-width="1.4"/>
<path d="M886.5,1463.9 L900,1467.8 L964.2,1506.3 L1028.5,1543.8" stroke-width="1.4" />
<path d="M900,1456.4 C902,1457.3 907.8,1459.7 912,1462 C916.2,1464.3 921.1,1468.2 925,1470 C928.9,1471.8 933.6,1472.6 935.3,1473.1" stroke-width="1.0" />
<path d="M935.3,1473.1 L1025.3,1506.3" stroke-width="1.8" />
<path d="M920,1470 C922.5,1472.5 927.6,1480.3 935.3,1484.9 C943,1489.5 952.6,1494 966.4,1497.8 C980.1,1501.5 1007.9,1506 1017.8,1507.4 C1027.7,1508.8 1024.5,1506.5 1025.8,1506.3" stroke-width="1.4" />
<path d="M886.5,1451.8 C885.9,1452.5 883.4,1454.3 883,1456 C882.6,1457.7 883,1460.7 884,1462 C885,1463.3 887,1464.2 889,1464 C891,1463.8 894.2,1462.3 896,1461 C897.8,1459.7 899.3,1457.2 900,1456.4" stroke-width="1.0" />
<path d="M893,1452 C894,1451.8 897.3,1450.5 899,1451 C900.7,1451.5 902.7,1453.5 903,1455 C903.3,1456.5 901.3,1459.2 901,1460" stroke-width="1.0" />
<path d="M152,1366.3 L274.7,1297.3" stroke-width="1.4" />
<path d="M160.3,1381.4 L281.9,1311.6" stroke-width="1.4" />
<path d="M274.7,1297.3 C275.5,1297.5 278.2,1297.8 279.5,1298.8 C280.8,1299.8 282,1301.4 282.6,1303 C283.2,1304.6 283.3,1307.1 283.2,1308.5 C283.1,1309.9 282.1,1311.1 281.9,1311.6" stroke-width="1.1" />
<path d="M278.3,1298.4 C278.6,1299.3 279.8,1302 280,1304 C280.2,1306 279.6,1309.3 279.5,1310.4" stroke-width="0.7" />
<path d="M235.2,1320 C236.2,1320.5 239.6,1320.8 241,1323 C242.4,1325.2 243.2,1331.4 243.6,1333.1" stroke-width="1.0" />
<path d="M130.1,1370.1 C130.1,1364.6 132,1365.4 133.1,1364.1 C134.2,1362.8 135,1362.5 136.9,1362.2 C138.8,1362 142.3,1362 144.5,1362.6 C146.7,1363.2 148.1,1364.3 149.8,1365.6 C151.5,1366.8 153.3,1368.2 154.7,1370.1 C156.1,1372 157.5,1374.4 158.4,1376.9 C159.3,1379.4 160.1,1382.6 160.3,1385.2 C160.5,1387.8 160.2,1391 159.6,1392.8 C159,1394.6 157.7,1395.1 156.6,1396.2 C155.5,1397.3 154.4,1398.6 152.8,1399.2 C151.2,1399.8 149.2,1399.5 147.1,1399.7 C145,1399.9 142.3,1401 140,1400.5 C137.7,1400 134.7,1402.1 133,1397 C131.3,1391.9 130.1,1375.6 130.1,1370.1Z" fill="#fff" stroke-width="1.7"/>
<path d="M145.2,1365.6 C146.5,1366.3 150.9,1368 152.8,1370.1 C154.7,1372.2 155.7,1375.8 156.6,1378.4 C157.5,1381.1 158,1383.6 158.2,1386 C158.3,1388.4 157.6,1391.8 157.5,1393" stroke-width="1.2" />
<path d="M129.4,1373.1 C127.7,1373.3 125.4,1376 124.4,1377.3 C123.4,1378.6 123.3,1379.4 123.3,1381 C123.2,1382.6 123.5,1385.1 124.1,1387.1 C124.7,1389.1 125.2,1390.6 127.1,1392.8 C129,1395 133.3,1398.7 135.4,1400 C137.5,1401.3 138.5,1401.2 139.6,1400.7 C140.7,1400.2 141.9,1398.9 142.2,1396.9 C142.4,1395 141.6,1391.6 141.1,1389 C140.6,1386.4 140.3,1383.5 139.2,1381.4 C138.1,1379.3 136.2,1377.6 134.6,1376.2 C133,1374.8 131.1,1372.9 129.4,1373.1Z" fill="#fff" stroke-width="1.7"/>
<path d="M129.4,1373.1 L137.7,1367.5 L147.9,1373.9 L154.3,1387.9 L146,1392.4 L142.2,1396.9" stroke-width="1.6" />
<path d="M139.2,1380.5 L147.9,1373.9" stroke-width="1.6" />
<path d="M140,1382.5 L145.6,1392.4" stroke-width="1.6" />
<path d="M320.8,1511.2 L443.5,1442.2" stroke-width="1.4" />
<path d="M329.1,1526.3 L450.7,1456.5" stroke-width="1.4" />
<path d="M443.5,1442.2 C444.3,1442.5 447,1442.8 448.3,1443.7 C449.6,1444.7 450.8,1446.3 451.4,1447.9 C452,1449.5 452.1,1452 452,1453.4 C451.9,1454.8 450.9,1456 450.7,1456.5" stroke-width="1.1" />
<path d="M447.1,1443.3 C447.4,1444.2 448.6,1446.9 448.8,1448.9 C449,1450.9 448.4,1454.2 448.3,1455.3" stroke-width="0.7" />
<path d="M404,1464.9 C405,1465.4 408.4,1465.7 409.8,1467.9 C411.2,1470.1 412,1476.3 412.4,1478" stroke-width="1.0" />
<path d="M298.9,1515 C298.9,1509.5 300.8,1510.3 301.9,1509 C303,1507.7 303.8,1507.4 305.7,1507.1 C307.6,1506.9 311.2,1506.9 313.3,1507.5 C315.4,1508.1 316.9,1509.2 318.6,1510.5 C320.3,1511.8 322.1,1513.1 323.5,1515 C324.9,1516.9 326.3,1519.3 327.2,1521.8 C328.1,1524.3 328.9,1527.5 329.1,1530.1 C329.3,1532.8 329,1535.9 328.4,1537.7 C327.8,1539.5 326.5,1540 325.4,1541.1 C324.3,1542.2 323.2,1543.5 321.6,1544.1 C320,1544.7 318,1544.4 315.9,1544.6 C313.8,1544.8 311.1,1545.9 308.8,1545.4 C306.5,1545 303.5,1547 301.8,1541.9 C300.1,1536.8 298.9,1520.5 298.9,1515Z" fill="#fff" stroke-width="1.7"/>
<path d="M314,1510.5 C315.3,1511.2 319.7,1512.9 321.6,1515 C323.5,1517.1 324.5,1520.7 325.4,1523.3 C326.3,1526 326.9,1528.5 327,1530.9 C327.1,1533.3 326.4,1536.7 326.3,1537.9" stroke-width="1.2" />
<path d="M298.2,1518 C296.5,1518.2 294.2,1520.9 293.2,1522.2 C292.2,1523.5 292.2,1524.3 292.1,1525.9 C292.1,1527.5 292.3,1530 292.9,1532 C293.5,1534 294,1535.5 295.9,1537.7 C297.8,1539.9 302.1,1543.6 304.2,1544.9 C306.3,1546.2 307.3,1546.1 308.4,1545.6 C309.5,1545.1 310.8,1543.8 311,1541.8 C311.2,1539.9 310.4,1536.5 309.9,1533.9 C309.4,1531.3 309.1,1528.4 308,1526.3 C306.9,1524.2 305,1522.5 303.4,1521.1 C301.8,1519.7 299.9,1517.8 298.2,1518Z" fill="#fff" stroke-width="1.7"/>
<path d="M298.2,1518 L306.5,1512.4 L316.7,1518.8 L323.1,1532.8 L314.8,1537.3 L311,1541.8" stroke-width="1.6" />
<path d="M308,1525.4 L316.7,1518.8" stroke-width="1.6" />
<path d="M308.8,1527.4 L314.4,1537.3" stroke-width="1.6" />
<path d="M157.4,1303.2 L189.7,1343.9" stroke-width="1.1" />
<path d="M320.3,1445.8 L356.1,1488.9" stroke-width="1.1" />
<path d="M283,1302 L432.6,1214.7" stroke-width="1.2" stroke-dasharray="9 5"/>
<path d="M451.8,1446.8 L561.2,1383.7" stroke-width="1.2" stroke-dasharray="9 5"/>
<path d="M724.8,1583.2 L745.4,1570.6" stroke-width="1.4" />
<path d="M745.4,1570.6 C746,1570.7 747.5,1570.3 748.9,1571.1 C750.2,1571.8 752.3,1573.6 753.5,1575.1 C754.7,1576.6 755.6,1578.7 756,1580.2 C756.4,1581.7 756.2,1583.1 756,1584.2 C755.8,1585.3 754.8,1586.3 754.5,1586.7" stroke-width="1.4" />
<path d="M754.5,1586.7 L732.3,1599.8" stroke-width="1.4" />
<path d="M703.1,1587.2 C702,1581.4 703.5,1582.6 705.1,1581.2 C706.7,1579.8 710.4,1578.7 712.7,1578.6 C715,1578.5 716.6,1579.6 718.7,1580.7 C720.8,1581.8 723.4,1582.8 725.3,1585.2 C727.2,1587.6 729.1,1592 730.3,1595.3 C731.5,1598.6 732.1,1602.6 732.3,1605.3 C732.5,1608 732.3,1609.6 731.3,1611.4 C730.3,1613.2 728,1615.1 726.3,1615.9 C724.6,1616.7 723.6,1616.2 721.2,1616.2 C718.8,1616.2 715,1620.8 712,1616 C709,1611.2 704.2,1593 703.1,1587.2Z" fill="#fff" stroke-width="1.7"/>
<path d="M719,1582 C720.2,1583.2 724.2,1586.3 726,1589 C727.8,1591.7 728.8,1595 729.5,1598 C730.2,1601 730.8,1604.5 730.5,1607 C730.2,1609.5 728.4,1612 728,1613" stroke-width="1.1" />
<path d="M696.5,1592.5 L696.5,1604.3 L705.1,1615.9 L715.2,1615.9 L715.2,1603.3 L707.6,1592.7Z" fill="#fff" stroke-width="1.7"/>
<path d="M707.6,1592.7 L715.2,1585.7 L725.8,1597.8 L715.2,1603.3" stroke-width="1.6" />
<path d="M701.6,1590.2 L711.2,1585.7" stroke-width="1.4" />
<path d="M725.8,1597.8 L725.8,1610.4 L720.2,1614.9" stroke-width="1.5" />
<path d="M723.5,1600.5 L723.5,1610" stroke-width="1.2" />
<path d="M743.4,1593.8 L787,1625.6" stroke-width="1.1" />
<path d="M756,1575.5 L1025,1420.5" stroke-width="1.2" stroke-dasharray="9 5"/>
<path d="M1054.7,1403.6 L1492.6,1148.8" stroke-width="1.2" stroke-dasharray="9 5"/>
<path d="M1053.1,1534.3 L1106.6,1570.5" stroke-width="1.1" />
<path d="M542.1,491.9 H626" stroke-width="1.8" />
</g>

<rect x="675.8" y="859.5" width="237.2" height="131.5" fill="#fff"/>
<defs>
 <clipPath id="cA"><path d="M670,850 L800,850 L800,932 L752,932 L728,933.3 L714,935 L700,937.6 L690,940.3 L670,946Z"/></clipPath>
 <clipPath id="cB"><path d="M670,946 L690,940.3 L700,937.6 L714,935 L728,933.3 L752,932 L800,932 L800,990 L670,990Z"/></clipPath>
</defs>
<g stroke="none">
 <!-- harvester (very light) -->
 <g fill="#e6e6e6">
  <path d="M780,899 L792.7,890 L808.7,872 L822.9,876.7 L838,881 L850.3,879 L852.2,861 L874.8,873 L875.8,896.6 L904.1,910.7 L905,918.3 L893,923 L894.7,930.6 L881.5,940 L890,945 L904,952 L911,965 L911,982 L905,989 L890,990 L873.9,987.2 L850,981 L820,975 L795,968 L786,955 L786,940 L793.6,926.8 L792,912 L779,906 Z"/>
 </g>
 <g fill="#dcdcdc">
  <path d="M806,896 L820,894 L822,921 L805.5,921.5 Z"/>
  <path d="M823.5,892 L835,892.5 L834,921 L825,921 Z"/>
  <path d="M840,893 L872,898 L874,925 L842,924 Z"/>
  <path d="M852,905 L902,912 L902,930 L855,928 Z"/>
  <path d="M880,945 L900,950 L910,966 L908,985 L895,989 L882,982 Z"/>
 </g>
 <g fill="none" stroke="#f8f8f8" stroke-width="1.2">
  <path d="M793,891 L795,926 M821,886 L823,922 M838,890 L836,925 M850,889 L852,928 M855,862 V889 M859,863 V890 M863,865 V891 M867,867 V892 M871,869 V894"/>
  <path d="M794,926.5 L838,925 L900,931 M830,929 L853,929 L854,940 M812,877 L822,886 M815,874 L824,882"/>
  <path d="M876,897 L903,911 M858,908 L900,914"/>
  <path d="M886,950 L898,986 M898,955 L905,980"/>
 </g>
 <!-- gear -->
 <path d="M743.1,931.2 L748.8,932.9 L748.5,937.4 L742.6,938.2 L741.7,941.7 L746.5,945.2 L744.7,949.4 L738.9,948.1 L736.8,951.1 L740.2,956.1 L737.0,959.3 L732.0,956.2 L729.0,958.3 L730.5,964.1 L726.4,966.1 L722.7,961.4 L719.3,962.4 L718.6,968.3 L714.1,968.8 L712.3,963.1 L708.7,962.8 L706.1,968.2 L701.7,967.1 L701.9,961.1 L698.6,959.7 L694.3,963.8 L690.5,961.3 L692.8,955.8 L690.1,953.2 L684.7,955.7 L682.0,952.0 L686.0,947.6 L684.4,944.3 L678.5,944.7 L677.2,940.4 L682.5,937.6 L682.1,934.0 L676.4,932.3 L676.7,927.8 L682.6,927.0 L683.5,923.5 L678.7,920.0 L680.5,915.8 L686.3,917.1 L688.4,914.1 L685.0,909.1 L688.2,905.9 L693.2,909.0 L696.2,906.9 L694.7,901.1 L698.8,899.1 L702.5,903.8 L705.9,902.8 L706.6,896.9 L711.1,896.4 L712.9,902.1 L716.5,902.4 L719.1,897.0 L723.5,898.1 L723.3,904.1 L726.6,905.5 L730.9,901.4 L734.7,903.9 L732.4,909.4 L735.1,912.0 L740.5,909.5 L743.2,913.2 L739.2,917.6 L740.8,920.9 L746.7,920.5 L748.0,924.8 L742.7,927.6Z M730.9,927.5 A22.2,22.2 0 1 0 686.5,927.5 A22.2,22.2 0 1 0 730.9,927.5Z" fill="#a6a6a6" fill-rule="evenodd" clip-path="url(#cA)"/>
 <path d="M743.1,931.2 L748.8,932.9 L748.5,937.4 L742.6,938.2 L741.7,941.7 L746.5,945.2 L744.7,949.4 L738.9,948.1 L736.8,951.1 L740.2,956.1 L737.0,959.3 L732.0,956.2 L729.0,958.3 L730.5,964.1 L726.4,966.1 L722.7,961.4 L719.3,962.4 L718.6,968.3 L714.1,968.8 L712.3,963.1 L708.7,962.8 L706.1,968.2 L701.7,967.1 L701.9,961.1 L698.6,959.7 L694.3,963.8 L690.5,961.3 L692.8,955.8 L690.1,953.2 L684.7,955.7 L682.0,952.0 L686.0,947.6 L684.4,944.3 L678.5,944.7 L677.2,940.4 L682.5,937.6 L682.1,934.0 L676.4,932.3 L676.7,927.8 L682.6,927.0 L683.5,923.5 L678.7,920.0 L680.5,915.8 L686.3,917.1 L688.4,914.1 L685.0,909.1 L688.2,905.9 L693.2,909.0 L696.2,906.9 L694.7,901.1 L698.8,899.1 L702.5,903.8 L705.9,902.8 L706.6,896.9 L711.1,896.4 L712.9,902.1 L716.5,902.4 L719.1,897.0 L723.5,898.1 L723.3,904.1 L726.6,905.5 L730.9,901.4 L734.7,903.9 L732.4,909.4 L735.1,912.0 L740.5,909.5 L743.2,913.2 L739.2,917.6 L740.8,920.9 L746.7,920.5 L748.0,924.8 L742.7,927.6Z" fill="#9a9a9a" clip-path="url(#cB)"/>
 <path d="M731,929.5 L748,929.5 L748,932 L731,932Z" fill="#fff"/>
 <!-- swoosh -->
 <path d="M679,944 C680.8,943.4 686.5,941.4 690,940.3 C693.5,939.2 696,938.5 700,937.6 C704,936.7 709.3,935.7 714,935 C718.7,934.3 721.7,933.8 728,933.3 C734.3,932.8 745,932.2 752,932 C759,931.8 763.7,932 770,932 C776.3,932 786.7,932.2 790,932.2 L790,936.8 C786.7,936.8 776.3,936.8 770,937 C763.7,937.2 759,937.5 752,938.3 C745,939.1 734.3,940.8 728,941.8 C721.7,942.8 718.7,943.5 714,944.6 C709.3,945.7 704,947.4 700,948.6 C696,949.8 692.8,950.9 690,952 C687.2,953.1 684.2,954.9 683,955.5Z" fill="#a9a9a9" stroke="#fff" stroke-width="1.4" paint-order="stroke"/>
 <path d="M681,947 C684.2,946 692.2,942.8 700,941 C707.8,939.2 718,937.4 728,936.3 C738,935.2 749.7,934.7 760,934.3 C770.3,933.9 785,934 790,934 M682,950.5 C685,949.5 692.3,946.2 700,944.3 C707.7,942.3 718,940.2 728,938.8 C738,937.4 749.7,936.3 760,935.8 C770.3,935.2 785,935.5 790,935.5 M683,953.5 C685.8,952.4 692.5,949 700,946.8 C707.5,944.6 718,942.1 728,940.5 C738,938.9 750.5,937.6 760,937 C769.5,936.4 780.8,936.7 785,936.6" fill="none" stroke="#ececec" stroke-width="0.7"/>
 <path d="M752,938.5 L790,937 L790,940 L752,941.5Z" fill="#fff"/>
</g>
<text x="794" y="939.8" font-family="Liberation Serif,serif" font-size="13.5" fill="#8f8f8f" textLength="32.5" lengthAdjust="spacingAndGlyphs">ООО</text>
<text x="715.5" y="970.8" font-family="Liberation Serif,serif" font-weight="bold" font-size="36" fill="#8b8b8b" stroke="#8b8b8b" stroke-width="0.5" textLength="178" lengthAdjust="spacingAndGlyphs">АГРОСНАБ</text>

<g class="lb"><text x="0" y="0" font-size="100" transform="matrix(0.3898,0,0,0.3271,505.83,502.90)">2</text>
<text x="0" y="0" font-size="100" transform="matrix(0.3400,0,0,0.3197,513.92,678.88)">3</text>
<text x="0" y="0" font-size="100" transform="matrix(0.3887,0,0,0.3319,529.52,884.90)">4</text>
<text x="0" y="0" font-size="100" transform="matrix(0.3780,0,0,0.3257,1370.97,993.47)">5</text>
<text x="0" y="0" font-size="100" transform="matrix(0.3771,0,0,0.3366,1110.39,1594.56)">6</text>
<text x="0" y="0" font-size="100" transform="matrix(0.3851,0,0,0.3397,791.36,1650.24)">7</text>
<text x="0" y="0" font-size="100" transform="matrix(0.3580,0,0,0.3352,131.03,1297.56)">8</text>
<text x="0" y="0" font-size="100" transform="matrix(0.3780,0,0,0.3352,291.87,1440.56)">8</text>
<text x="0" y="0" font-size="40" transform="matrix(0.4895,0,0,0.6606,8.93,1843.80)">17BT_RE525022_PCD</text></g><path d="M582.1,135.1 H583.9 V157.7 H582.1 V142.6 L580.2,142.6 L579.1,144.2 L579.1,140 Z" fill="#000"/>
</svg>
</body></html>
